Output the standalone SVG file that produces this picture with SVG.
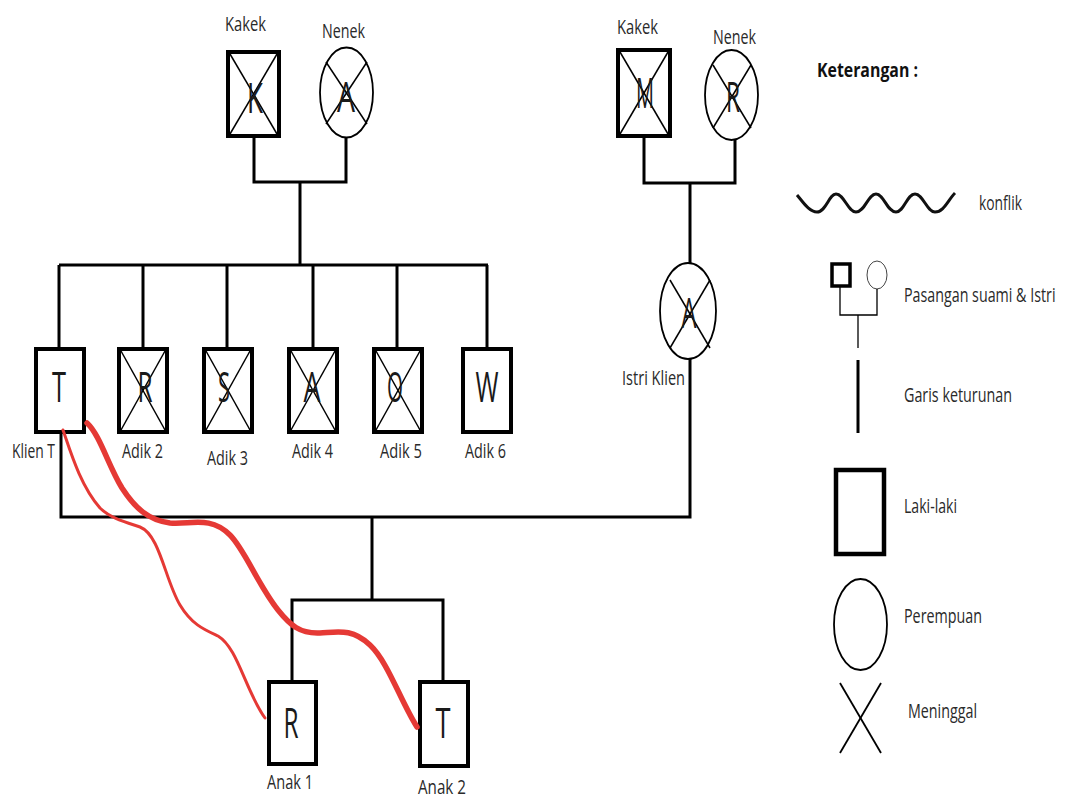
<svg xmlns="http://www.w3.org/2000/svg" width="1065" height="798" viewBox="0 0 1065 798">
  <style>
    .lbl { font-family: "Open Sans", "Liberation Sans", sans-serif; font-size: 20px; fill: #2a2a2a; }
    .big { font-family: "Open Sans", "Liberation Sans", sans-serif; font-size: 42px; fill: #1a1a1a; text-anchor: middle; }
    .head { font-family: "Open Sans", "Liberation Sans", sans-serif; font-size: 19px; font-weight: bold; fill: #111; }
    .male { fill: #fff; stroke: #000; stroke-width: 4; }
    .female { fill: #fff; stroke: #000; stroke-width: 1.8; }
    .cross { stroke: #000; stroke-width: 1.5; fill: none; }
    .link { stroke: #000; stroke-width: 3; fill: none; }
    .conflict { stroke: #e53935; fill: none; stroke-linecap: round; stroke-linejoin: round; }
  </style>

  <!-- lines of descent and marriage -->
  <g id="connectors">
    <!-- paternal grandparents -->
    <polyline class="link" points="254,137 254,182 346,182 346,138"/>
    <line class="link" x1="300" y1="182" x2="300" y2="265"/>
    <line class="link" x1="59" y1="265" x2="488" y2="265"/>
    <line class="link" x1="59" y1="265" x2="59" y2="347"/>
    <line class="link" x1="143" y1="265" x2="143" y2="347"/>
    <line class="link" x1="227" y1="265" x2="227" y2="347"/>
    <line class="link" x1="313" y1="265" x2="313" y2="347"/>
    <line class="link" x1="397" y1="265" x2="397" y2="347"/>
    <line class="link" x1="487" y1="265" x2="487" y2="347"/>
    <!-- maternal grandparents -->
    <polyline class="link" points="644,137 644,183 735,183 735,140"/>
    <line class="link" x1="690" y1="183" x2="690" y2="263"/>
    <!-- client and wife -->
    <polyline class="link" points="61,433 61,517 690,517 690,359"/>
    <line class="link" x1="372" y1="517" x2="372" y2="600"/>
    <polyline class="link" points="292,680 292,600 443,600 443,680"/>
  </g>

  <!-- grandparents (father's side) -->
  <g id="kakek-k">
    <rect class="male" x="228" y="52" width="51" height="84"/>
    <line class="cross" x1="230" y1="54" x2="277" y2="134"/>
    <line class="cross" x1="277" y1="54" x2="230" y2="134"/>
    <text class="big" x="255" y="113" textLength="16" lengthAdjust="spacingAndGlyphs">K</text>
    <text class="lbl" x="225" y="31" textLength="41" lengthAdjust="spacingAndGlyphs">Kakek</text>
  </g>
  <g id="nenek-a">
    <ellipse class="female" cx="346.5" cy="92.5" rx="26.5" ry="45"/>
    <line class="cross" x1="326" y1="62" x2="367" y2="124"/>
    <line class="cross" x1="367" y1="62" x2="326" y2="124"/>
    <text class="big" x="346" y="112" textLength="18" lengthAdjust="spacingAndGlyphs">A</text>
    <text class="lbl" x="322" y="38" textLength="43" lengthAdjust="spacingAndGlyphs">Nenek</text>
  </g>

  <!-- grandparents (wife's side) -->
  <g id="kakek-m">
    <rect class="male" x="618" y="50" width="52" height="86"/>
    <line class="cross" x1="620" y1="52" x2="668" y2="134"/>
    <line class="cross" x1="668" y1="52" x2="620" y2="134"/>
    <text class="big" x="645" y="108" textLength="18" lengthAdjust="spacingAndGlyphs">M</text>
    <text class="lbl" x="617" y="34" textLength="41" lengthAdjust="spacingAndGlyphs">Kakek</text>
  </g>
  <g id="nenek-r">
    <ellipse class="female" cx="731.5" cy="95" rx="26.5" ry="45"/>
    <line class="cross" x1="713" y1="65" x2="751" y2="128"/>
    <line class="cross" x1="751" y1="65" x2="713" y2="128"/>
    <text class="big" x="733" y="112" textLength="14" lengthAdjust="spacingAndGlyphs">R</text>
    <text class="lbl" x="713" y="44" textLength="43" lengthAdjust="spacingAndGlyphs">Nenek</text>
  </g>

  <!-- siblings -->
  <g id="klien-t">
    <rect class="male" x="36" y="349" width="48" height="83"/>
    <text class="big" x="59" y="402" textLength="14" lengthAdjust="spacingAndGlyphs">T</text>
    <text class="lbl" x="12" y="458" textLength="43" lengthAdjust="spacingAndGlyphs">Klien T</text>
  </g>
  <g id="adik-2">
    <rect class="male" x="119" y="349" width="48" height="83"/>
    <line class="cross" x1="121" y1="351" x2="165" y2="430"/>
    <line class="cross" x1="165" y1="351" x2="121" y2="430"/>
    <text class="big" x="145" y="402" textLength="15" lengthAdjust="spacingAndGlyphs">R</text>
    <text class="lbl" x="122" y="458" textLength="41" lengthAdjust="spacingAndGlyphs">Adik 2</text>
  </g>
  <g id="adik-3">
    <rect class="male" x="204" y="349" width="48" height="83"/>
    <line class="cross" x1="206" y1="351" x2="250" y2="430"/>
    <line class="cross" x1="250" y1="351" x2="206" y2="430"/>
    <text class="big" x="224" y="402" textLength="12" lengthAdjust="spacingAndGlyphs">S</text>
    <text class="lbl" x="207" y="465" textLength="41" lengthAdjust="spacingAndGlyphs">Adik 3</text>
  </g>
  <g id="adik-4">
    <rect class="male" x="289" y="349" width="48" height="83"/>
    <line class="cross" x1="291" y1="351" x2="335" y2="430"/>
    <line class="cross" x1="335" y1="351" x2="291" y2="430"/>
    <text class="big" x="312" y="402" textLength="17" lengthAdjust="spacingAndGlyphs">A</text>
    <text class="lbl" x="292" y="458" textLength="41" lengthAdjust="spacingAndGlyphs">Adik 4</text>
  </g>
  <g id="adik-5">
    <rect class="male" x="374" y="349" width="48" height="83"/>
    <line class="cross" x1="376" y1="351" x2="420" y2="430"/>
    <line class="cross" x1="420" y1="351" x2="376" y2="430"/>
    <text class="big" x="395" y="402" textLength="16" lengthAdjust="spacingAndGlyphs">O</text>
    <text class="lbl" x="380" y="458" textLength="42" lengthAdjust="spacingAndGlyphs">Adik 5</text>
  </g>
  <g id="adik-6">
    <rect class="male" x="463" y="349" width="48" height="83"/>
    <text class="big" x="487" y="402" textLength="23" lengthAdjust="spacingAndGlyphs">W</text>
    <text class="lbl" x="465" y="458" textLength="41" lengthAdjust="spacingAndGlyphs">Adik 6</text>
  </g>

  <!-- wife -->
  <g id="istri-klien">
    <ellipse class="female" cx="688" cy="311" rx="28" ry="48"/>
    <line class="cross" x1="670" y1="280" x2="710" y2="348"/>
    <line class="cross" x1="710" y1="280" x2="670" y2="348"/>
    <text class="big" x="689" y="328" font-size="38" textLength="15" lengthAdjust="spacingAndGlyphs">A</text>
    <text class="lbl" x="622" y="385" textLength="63" lengthAdjust="spacingAndGlyphs">Istri Klien</text>
  </g>

  <!-- children -->
  <g id="anak-1">
    <rect class="male" x="269" y="682" width="47" height="82"/>
    <text class="big" x="291" y="738" textLength="15" lengthAdjust="spacingAndGlyphs">R</text>
    <text class="lbl" x="267" y="789" textLength="46" lengthAdjust="spacingAndGlyphs">Anak 1</text>
  </g>
  <g id="anak-2">
    <rect class="male" x="420" y="682" width="48" height="84"/>
    <text class="big" x="443" y="738" textLength="15" lengthAdjust="spacingAndGlyphs">T</text>
    <text class="lbl" x="418" y="794" textLength="48" lengthAdjust="spacingAndGlyphs">Anak 2</text>
  </g>

  <!-- conflict lines -->
  <g id="conflicts">
    <path class="conflict" stroke-width="3" d="M63,430 C70,450 80,485 100,508 C110,518 125,522 140,527 C160,535 165,580 180,605 C192,625 205,630 218,636 C238,648 245,690 265,718"/>
    <path class="conflict" stroke-width="5.5" d="M87,423 C100,435 108,465 122,488 C135,508 148,520 170,523 C190,525 210,515 230,535 C245,550 258,585 278,610 C290,625 300,634 320,633 C338,632 352,628 370,645 C388,662 400,700 417,727"/>
  </g>

  <!-- legend -->
  <g id="legend">
    <text class="head" x="817" y="77" textLength="101" lengthAdjust="spacingAndGlyphs">Keterangan :</text>

    <path d="M797,195 C803,202 809,212 817,212 C826,212 829,194 836,194 C844,194 848,212 856,212 C865,212 868,194 876,194 C884,194 887,212 896,212 C904,212 907,194 915,194 C923,194 927,212 935,212 C944,212 948,200 955,193" fill="none" stroke="#111" stroke-width="3"/>
    <text class="lbl" x="979" y="210" textLength="43" lengthAdjust="spacingAndGlyphs">konflik</text>

    <rect x="832" y="264" width="18" height="22" fill="#fff" stroke="#000" stroke-width="3.5"/>
    <ellipse cx="877" cy="275" rx="10" ry="14" fill="#fff" stroke="#444" stroke-width="1"/>
    <polyline points="840,287 840,315 877,315 877,289" fill="none" stroke="#000" stroke-width="1.3"/>
    <line x1="858" y1="315" x2="858" y2="348" stroke="#000" stroke-width="1.3"/>
    <!-- condensed horizontally so the long label fits the right margin -->
    <g transform="translate(904,302) scale(0.75,1)">
      <text class="lbl" x="0" y="0" textLength="202" lengthAdjust="spacingAndGlyphs">Pasangan suami &amp; Istri</text>
    </g>

    <line x1="858" y1="360" x2="858" y2="433" stroke="#000" stroke-width="3"/>
    <text class="lbl" x="904" y="402" textLength="108" lengthAdjust="spacingAndGlyphs">Garis keturunan</text>

    <rect x="836" y="470" width="48" height="84" fill="#fff" stroke="#000" stroke-width="4.5"/>
    <text class="lbl" x="904" y="513" textLength="53" lengthAdjust="spacingAndGlyphs">Laki-laki</text>

    <ellipse cx="860.5" cy="624.5" rx="26.5" ry="45.5" fill="#fff" stroke="#000" stroke-width="1.8"/>
    <text class="lbl" x="904" y="623" textLength="78" lengthAdjust="spacingAndGlyphs">Perempuan</text>

    <line x1="840" y1="683" x2="881" y2="753" stroke="#000" stroke-width="1.8"/>
    <line x1="881" y1="683" x2="840" y2="753" stroke="#000" stroke-width="1.8"/>
    <text class="lbl" x="908" y="718" textLength="69" lengthAdjust="spacingAndGlyphs">Meninggal</text>
  </g>
</svg>
